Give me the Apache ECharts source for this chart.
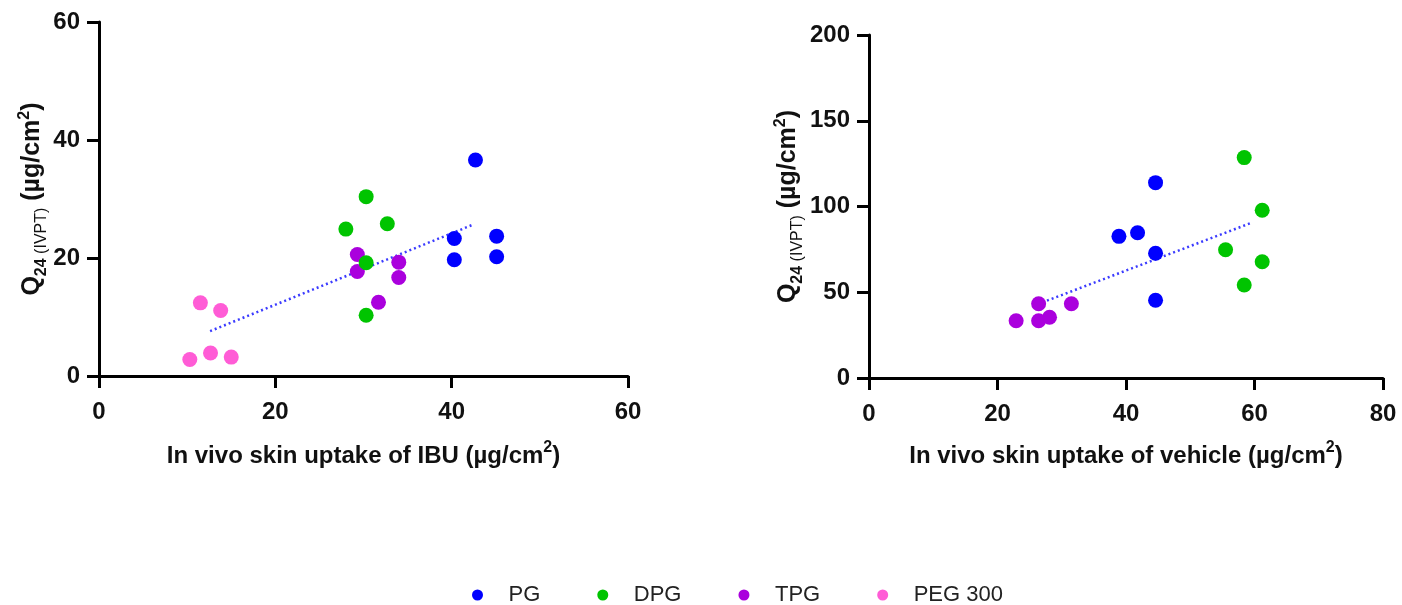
<!DOCTYPE html>
<html>
<head>
<meta charset="utf-8">
<script src="https://cdn.jsdelivr.net/npm/echarts@6/dist/echarts.min.js"></script>
<style>
  html, body { margin: 0; padding: 0; background: #fff; }
  #chart { width: 1402px; height: 605px; }
</style>
</head>
<body>
<div id="chart"></div>
<script>
// ---- Data ----
const seriesNames = ['PG', 'DPG', 'TPG', 'PEG 300'];
const seriesColors = ['#0000ff', '#00c400', '#aa00dd', '#ff5cd6'];

// Left panel: x = in vivo skin uptake of IBU, y = Q24 (IVPT)
const ibuPG     = [[42.7, 36.6], [40.3, 23.3], [40.3, 19.7], [45.1, 23.7], [45.1, 20.2]];
const ibuDPG    = [[30.3, 30.4], [28.0, 24.9], [32.7, 25.8], [30.3, 19.2], [30.3, 10.3]];
const ibuTPG    = [[29.3, 20.6], [29.3, 17.7], [34.0, 19.3], [34.0, 16.7], [31.7, 12.5]];
const ibuPEG    = [[11.5, 12.4], [13.8, 11.1], [10.3, 2.8], [12.65, 3.9], [15.0, 3.2]];
const ibuTrend  = [[12.6, 7.6], [42.5, 25.7]];

// Right panel: x = in vivo skin uptake of vehicle, y = Q24 (IVPT)
const vehPG     = [[44.6, 113.9], [38.9, 82.6], [41.8, 84.7], [44.6, 72.7], [44.6, 45.3]];
const vehDPG    = [[58.4, 128.5], [61.2, 97.8], [55.5, 74.8], [61.2, 67.8], [58.4, 54.2]];
const vehTPG    = [[22.9, 33.4], [26.4, 33.4], [28.1, 35.4], [26.4, 43.3], [31.5, 43.3]];
const vehTrend  = [[27.7, 45.1], [59.6, 90.6]];

// Axis ranges / ticks
const leftX  = { min: 0, max: 60, interval: 20 };
const leftY  = { min: 0, max: 60, interval: 20 };
const rightX = { min: 0, max: 80, interval: 20 };
const rightY = { min: 0, max: 200, interval: 50 };

const xTitleLeft  = '{t|In vivo skin uptake of IBU (µg/cm}{sup|2}{t|)}';
const xTitleRight = '{t|In vivo skin uptake of vehicle (µg/cm}{sup|2}{t|)}';
const yTitle      = '{q|Q}{sub|24}{sub2| (IVPT)}{q| (µg/cm}{supy|2}{q|)}';

// ---- Styles ----
const FONT = 'Liberation Sans, Arial, Helvetica, sans-serif';
const richTitle = {
  t:    { fontFamily: FONT, fontSize: 24, fontWeight: 'bold', color: '#111', lineHeight: 28, verticalAlign: 'bottom' },
  q:    { fontFamily: FONT, fontSize: 25, fontWeight: 'bold', color: '#111', lineHeight: 28, verticalAlign: 'bottom' },
  sup:  { fontFamily: FONT, fontSize: 16, fontWeight: 'bold', color: '#111', lineHeight: 26, verticalAlign: 'top' },
  supy: { fontFamily: FONT, fontSize: 16, fontWeight: 'bold', color: '#111', lineHeight: 26, verticalAlign: 'top' },
  sub:  { fontFamily: FONT, fontSize: 16, fontWeight: 'bold', color: '#111', lineHeight: 18, verticalAlign: 'bottom', padding: [0, 0, -5, 0] },
  sub2: { fontFamily: FONT, fontSize: 16, fontWeight: 'normal', color: '#111', lineHeight: 18, verticalAlign: 'bottom', padding: [0, 0, -5, 0] }
};
const tickLabel = { fontFamily: FONT, fontSize: 24, fontWeight: 'bold', color: '#111' };

function axisCommon(extra) {
  return Object.assign({
    type: 'value',
    splitLine: { show: false },
    axisLine: { show: true, lineStyle: { color: '#000', width: 3 } },
    axisTick: { show: true, length: 12, lineStyle: { color: '#000', width: 3 } },
    nameLocation: 'middle',
    nameTextStyle: { rich: richTitle }
  }, extra);
}

const chart = echarts.init(document.getElementById('chart'), null, { renderer: 'canvas' });

function scatter(name, data, xi, yi, color, z) {
  return {
    type: 'scatter', name: name, data: data,
    xAxisIndex: xi, yAxisIndex: yi,
    symbol: 'circle', symbolSize: 15,
    itemStyle: { color: color, opacity: 1 },
    z: z
  };
}
function trend(data, xi, yi) {
  return {
    type: 'line', name: 'trend', data: data,
    xAxisIndex: xi, yAxisIndex: yi,
    symbol: 'none', silent: true,
    lineStyle: { color: '#3b3bff', width: 2.5, type: [2, 3] },
    z: 1
  };
}

const option = {
  backgroundColor: '#fff',
  animation: false,
  grid: [
    { left: 99, top: 22, width: 529, height: 354, containLabel: false },
    { left: 869, top: 35, width: 514, height: 343, containLabel: false }
  ],
  xAxis: [
    axisCommon({ gridIndex: 0, min: leftX.min, max: leftX.max, interval: leftX.interval,
      name: xTitleLeft, nameGap: 64, axisLabel: Object.assign({ margin: 24 }, tickLabel) }),
    axisCommon({ gridIndex: 1, min: rightX.min, max: rightX.max, interval: rightX.interval,
      name: xTitleRight, nameGap: 62, axisLabel: Object.assign({ margin: 24 }, tickLabel) })
  ],
  yAxis: [
    axisCommon({ gridIndex: 0, min: leftY.min, max: leftY.max, interval: leftY.interval,
      name: yTitle, nameGap: 54, nameRotate: 90, axisLabel: Object.assign({ margin: 19 }, tickLabel) }),
    axisCommon({ gridIndex: 1, min: rightY.min, max: rightY.max, interval: rightY.interval,
      name: yTitle, nameGap: 54, nameRotate: 90, axisLabel: Object.assign({ margin: 19 }, tickLabel) })
  ],
  legend: {
    data: seriesNames.map(n => ({ name: n, icon: 'circle' })),
    left: 467, top: 579,
    itemWidth: 52, itemHeight: 11, itemGap: 57,
    textStyle: { fontFamily: FONT, fontSize: 22, color: '#222' }
  },
  series: [
    trend(ibuTrend, 0, 0),
    scatter('PG', ibuPG, 0, 0, seriesColors[0], 3),
    scatter('TPG', ibuTPG, 0, 0, seriesColors[2], 2),
    scatter('DPG', ibuDPG, 0, 0, seriesColors[1], 3),
    scatter('PEG 300', ibuPEG, 0, 0, seriesColors[3], 3),
    trend(vehTrend, 1, 1),
    scatter('PG', vehPG, 1, 1, seriesColors[0], 3),
    scatter('DPG', vehDPG, 1, 1, seriesColors[1], 3),
    scatter('TPG', vehTPG, 1, 1, seriesColors[2], 3)
  ]
};
chart.setOption(option);
</script>
</body>
</html>
